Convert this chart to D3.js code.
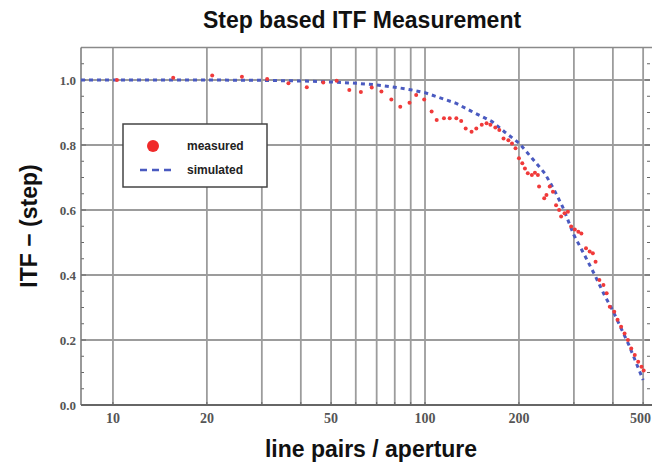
<!DOCTYPE html>
<html>
<head>
<meta charset="utf-8">
<script src="https://cdn.jsdelivr.net/npm/d3@7"></script>
<style>
  body { margin: 0; background: #fff; }
  svg { display: block; }
</style>
</head>
<body>
<svg id="vis"></svg>
<script>
// dados
const measX = [10.3, 15.6, 20.8, 25.9, 31.2, 36.5, 41.8, 47.2, 52.1, 57.2, 62.3, 67.5, 72.5, 78, 83.3, 89.2, 93.7, 99.4,
  105, 109, 115, 120, 126, 130.6, 135, 141, 146, 152, 157.5, 162, 168, 173, 178.5, 185, 190, 195,
  200, 205, 209, 213.5, 220, 225, 230, 232, 241, 245, 251, 257, 263, 269, 273, 280, 287, 294, 302, 310, 317,
  328, 337, 345, 352, 362, 373, 382, 391, 404, 414, 425, 436, 447, 458, 470, 482, 494, 502];
const measY = [1.0, 1.007, 1.014, 1.01, 1.003, 0.99, 0.978, 0.992, 0.998, 0.969, 0.963, 0.977, 0.965, 0.94, 0.918, 0.93, 0.954, 0.94,
  0.903, 0.877, 0.882, 0.882, 0.882, 0.874, 0.851, 0.841, 0.851, 0.862, 0.867, 0.862, 0.854, 0.846, 0.82, 0.815, 0.805, 0.79,
  0.759, 0.744, 0.728, 0.713, 0.708, 0.715, 0.708, 0.672, 0.636, 0.646, 0.672, 0.656, 0.615, 0.60, 0.58, 0.59, 0.595, 0.549, 0.54, 0.533, 0.528,
  0.482, 0.472, 0.467, 0.441, 0.385, 0.369, 0.344, 0.302, 0.287, 0.262, 0.241, 0.22, 0.20, 0.174, 0.154, 0.133, 0.118, 0.106];

const simX = [7.9, 10, 15, 20, 30, 40, 50, 60, 70, 80, 90, 100, 126, 140, 164, 180, 200, 220, 242, 260, 276, 300, 325, 350, 375, 400, 450, 500];
const simY = [1, 1, 1, 1, 0.999, 0.997, 0.994, 0.99, 0.985, 0.978, 0.97, 0.961, 0.928, 0.905, 0.872, 0.84, 0.806, 0.76, 0.713, 0.66, 0.61, 0.523, 0.46, 0.40, 0.34, 0.29, 0.185, 0.077];

const xGrid = [10, 20, 30, 40, 50, 60, 70, 80, 90, 100, 200, 300, 400, 500];
const xLabels = [10, 20, 50, 100, 200, 500];
const yLabels = [0, 0.2, 0.4, 0.6, 0.8, 1.0];
const yMinor = d3.range(0, 1.1, 0.05);

const titulo = "Step based ITF Measurement";
const xTitulo = "line pairs / aperture";
const yTitulo = "ITF \u2212 (step)";
const legenda = ["measured", "simulated"];

const w = 652, h = 464;
const margin = { top: 47.5, bottom: 59, left: 81, right: 2 };

const $svg = d3.select('#vis').attr('width', w).attr('height', h);

const x = d3.scaleLog().domain([7.9, 526]).range([margin.left, w - margin.right]);
const y = d3.scaleLinear().domain([0, 1.1]).range([h - margin.bottom, margin.top]);

const grid = '#9c9c9c';

// grades
$svg.append('g').selectAll('line').data(xGrid).enter().append('line')
  .attr('x1', d => x(d)).attr('x2', d => x(d))
  .attr('y1', y(0)).attr('y2', y(1.1))
  .attr('stroke', grid).attr('stroke-width', 1.8);

$svg.append('g').selectAll('line').data(yLabels.filter(d => d > 0)).enter().append('line')
  .attr('x1', x.range()[0]).attr('x2', x.range()[1])
  .attr('y1', d => y(d)).attr('y2', d => y(d))
  .attr('stroke', grid).attr('stroke-width', 1.8);

// ticks menores
const ticks = $svg.append('g').attr('stroke', '#666').attr('stroke-width', 1);
ticks.selectAll('.tl').data(yMinor).enter().append('line')
  .attr('x1', x.range()[0]).attr('x2', (d, i) => x.range()[0] + (i % 4 == 0 ? 5 : 3))
  .attr('y1', d => y(d)).attr('y2', d => y(d));
ticks.selectAll('.tr').data(yMinor).enter().append('line')
  .attr('x1', x.range()[1]).attr('x2', (d, i) => x.range()[1] - (i % 4 == 0 ? 5 : 3))
  .attr('y1', d => y(d)).attr('y2', d => y(d));
ticks.selectAll('.tb').data(xGrid).enter().append('line')
  .attr('x1', d => x(d)).attr('x2', d => x(d))
  .attr('y1', y(0)).attr('y2', y(0) - 3);

// moldura
$svg.append('line').attr('x1', x.range()[0]).attr('x2', w).attr('y1', y(1.1)).attr('y2', y(1.1))
  .attr('stroke', '#8a8a8a').attr('stroke-width', 1.5);
$svg.append('line').attr('x1', x.range()[0]).attr('x2', x.range()[0]).attr('y1', y(1.1)).attr('y2', y(0))
  .attr('stroke', '#777').attr('stroke-width', 1.5);
$svg.append('line').attr('x1', x.range()[0]).attr('x2', w).attr('y1', y(0)).attr('y2', y(0))
  .attr('stroke', '#666').attr('stroke-width', 1.8);

// rótulos dos eixos (o último encosta na borda, então ancora no fim)
$svg.append('g').selectAll('text').data(xLabels).enter().append('text')
  .attr('x', (d, i) => i == xLabels.length - 1 ? w - 1 : x(d)).attr('y', y(0) + 18)
  .attr('text-anchor', (d, i) => i == xLabels.length - 1 ? 'end' : 'middle')
  .style('font-family', '"Liberation Serif", serif').style('font-size', '14px')
  .style('font-weight', 'bold').attr('fill', '#555')
  .text(d => d);

$svg.append('g').selectAll('text').data(yLabels).enter().append('text')
  .attr('x', x.range()[0] - 5).attr('y', d => y(d) + 4.5)
  .attr('text-anchor', 'end')
  .style('font-family', '"Liberation Serif", serif').style('font-size', '13px')
  .style('font-weight', 'bold').attr('fill', '#555')
  .text(d => d.toFixed(1));

// simulado
const linha = d3.line().x((d, i) => x(simX[i])).y(d => y(d));
$svg.append('path').datum(simY)
  .attr('d', linha)
  .attr('fill', 'none')
  .attr('stroke', '#4a5ac0')
  .attr('stroke-width', 3)
  .attr('stroke-dasharray', '4,4');

// medido
$svg.append('g').selectAll('circle').data(measY).enter().append('circle')
  .attr('cx', (d, i) => x(measX[i]))
  .attr('cy', d => y(d))
  .attr('r', 2)
  .attr('fill', '#f03a3a');

// títulos
$svg.append('text').attr('x', 362).attr('y', 28).attr('text-anchor', 'middle')
  .style('font-family', '"Liberation Sans", Arial, sans-serif').style('font-size', '23px').style('font-weight', 'bold')
  .attr('fill', '#111').text(titulo);

$svg.append('text').attr('x', 371).attr('y', 457).attr('text-anchor', 'middle')
  .style('font-family', '"Liberation Sans", Arial, sans-serif').style('font-size', '23px').style('font-weight', 'bold')
  .attr('fill', '#111').text(xTitulo);

$svg.append('text').attr('transform', 'translate(37,226) rotate(-90)').attr('text-anchor', 'middle')
  .style('font-family', '"Liberation Sans", Arial, sans-serif').style('font-size', '23px').style('font-weight', 'bold')
  .attr('fill', '#111').text(yTitulo);

// legenda
const leg = $svg.append('g');
leg.append('rect').attr('x', 123).attr('y', 124).attr('width', 144).attr('height', 63)
  .attr('fill', '#fff').attr('stroke', '#444').attr('stroke-width', 1.5);
leg.append('circle').attr('cx', 153).attr('cy', 146).attr('r', 6).attr('fill', '#f02a2a');
leg.append('line').attr('x1', 140).attr('x2', 174).attr('y1', 170).attr('y2', 170)
  .attr('stroke', '#4a5ac0').attr('stroke-width', 2.5).attr('stroke-dasharray', '7,5');
leg.selectAll('text').data(legenda).enter().append('text')
  .attr('x', 187).attr('y', (d, i) => 150 + i * 24)
  .style('font-family', '"Liberation Sans", Arial, sans-serif').style('font-size', '12px').style('font-weight', 'bold')
  .attr('fill', '#222').text(d => d);
</script>
</body>
</html>
